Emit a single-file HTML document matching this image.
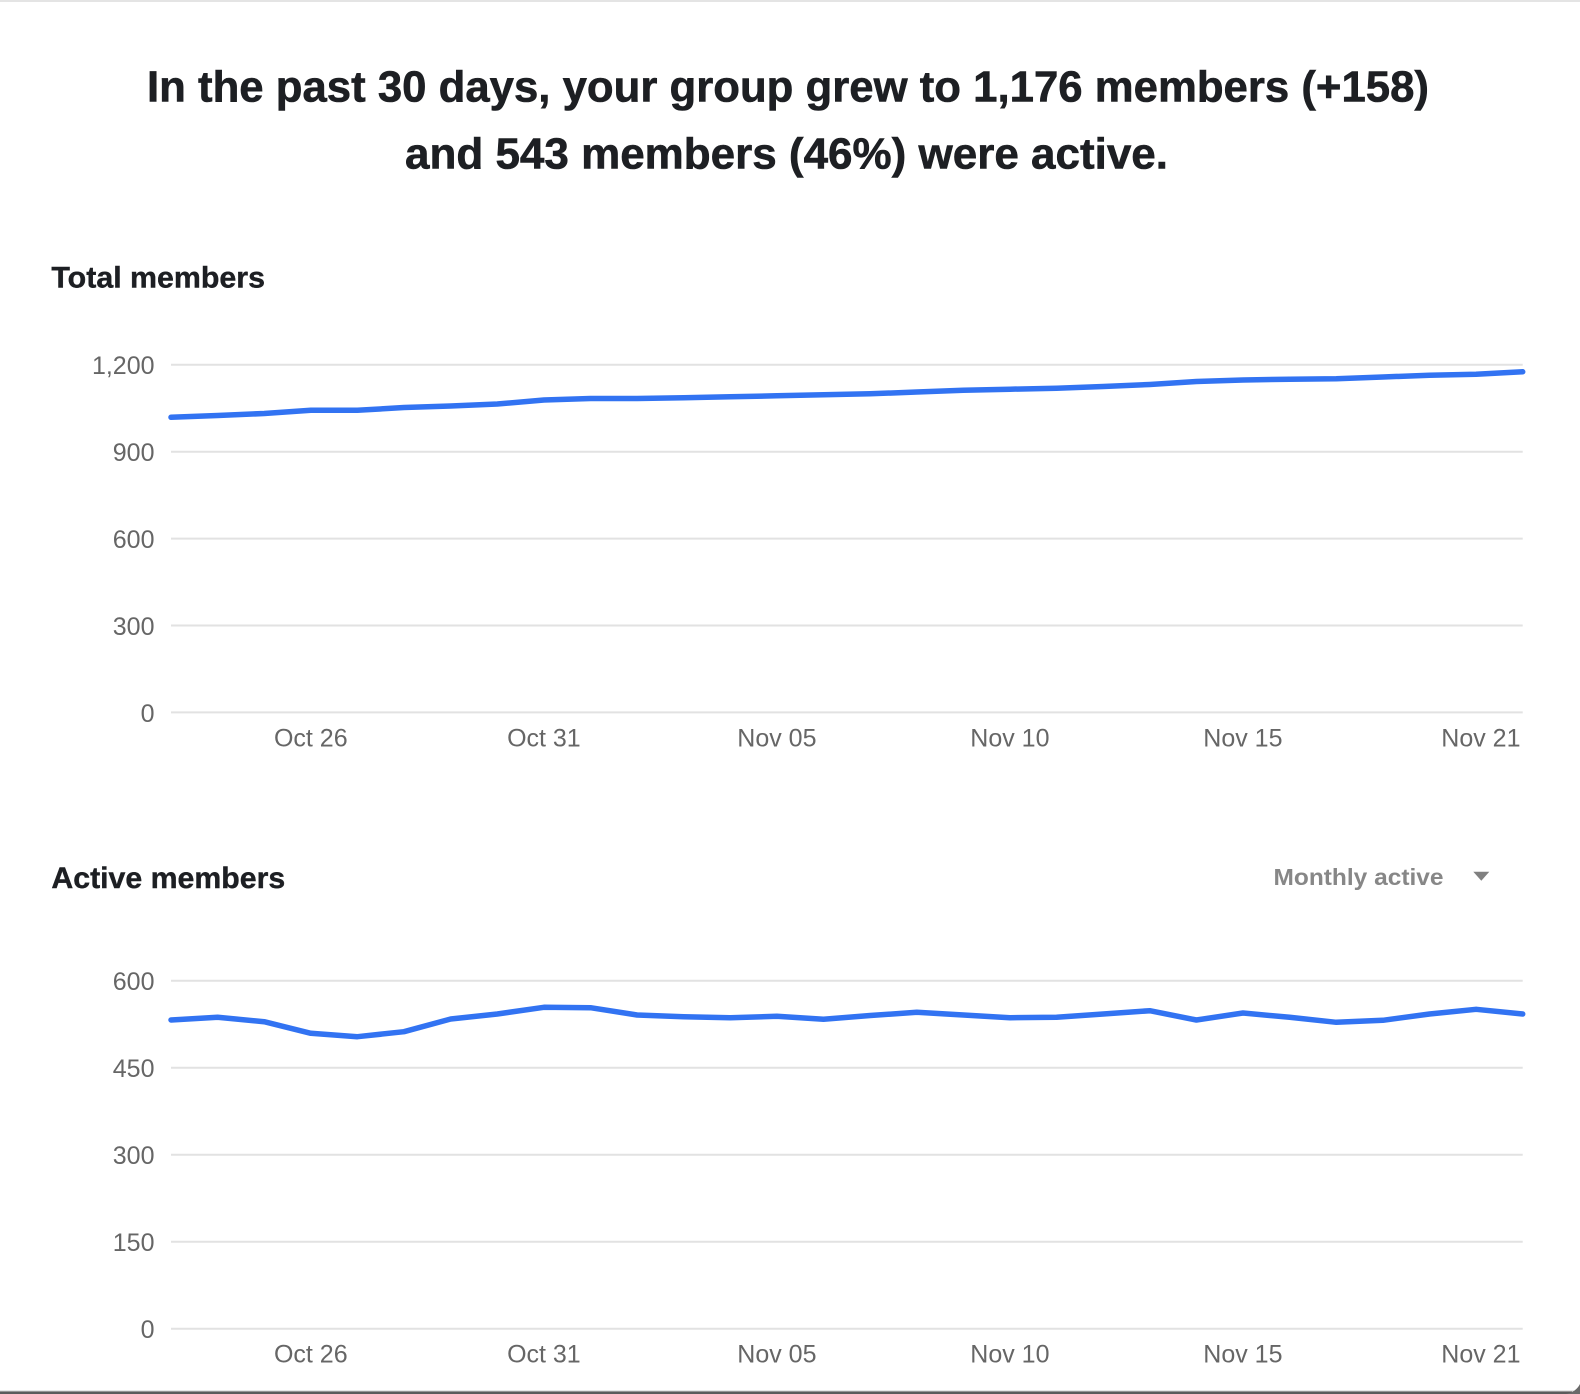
<!DOCTYPE html>
<html>
<head>
<meta charset="utf-8">
<style>
  html, body { margin: 0; padding: 0; background: #ffffff; }
  body { width: 1580px; height: 1394px; overflow: hidden; }
  svg { display: block; }
  .title { font-family: "Liberation Sans", Arial, sans-serif; font-weight: 700; font-size: 44px; fill: #1d1f23; stroke: #1d1f23; stroke-width: 0.6; }
  .sec { font-family: "Liberation Sans", Arial, sans-serif; font-weight: 700; font-size: 30px; fill: #1d1f23; stroke: #1d1f23; stroke-width: 0.4; }
  .drop { font-family: "Liberation Sans", Arial, sans-serif; font-weight: 700; font-size: 23px; fill: #878787; }
  .ax { font-family: "Liberation Sans", Arial, sans-serif; font-size: 25px; fill: #666666; }
  .grid { stroke: #e2e2e2; stroke-width: 2; }
  .series { fill: none; stroke: #3273f2; stroke-width: 5.5; stroke-linejoin: round; stroke-linecap: round; }
</style>
</head>
<body>
<svg width="1580" height="1394" viewBox="0 0 1580 1394" xmlns="http://www.w3.org/2000/svg">
  <rect x="0" y="0" width="1580" height="1394" fill="#ffffff"/>
  <!-- top border -->
  <rect x="0" y="0" width="1580" height="2" fill="#e4e4e4"/>
  <!-- bottom border -->
  <rect x="0" y="1390.5" width="1574" height="1" fill="#cfcfcf"/>
  <rect x="0" y="1391.5" width="1572" height="2.5" fill="#5b5b5b"/>
  <path d="M1566 1394 Q1576 1392 1580 1384 L1580 1394 Z" fill="#6a6a6a"/>

  <!-- Title -->
  <text class="title" x="147" y="101.7" textLength="1282" lengthAdjust="spacingAndGlyphs">In the past 30 days, your group grew to 1,176 members (+158)</text>
  <text class="title" x="405" y="168.3" textLength="763" lengthAdjust="spacingAndGlyphs">and 543 members (46%) were active.</text>

  <!-- Section: Total members -->
  <text class="sec" x="51.4" y="287.5" textLength="213.6" lengthAdjust="spacingAndGlyphs">Total members</text>

  <g>
    <line class="grid" x1="171" y1="364.8" x2="1522.7" y2="364.8"/>
    <line class="grid" x1="171" y1="451.7" x2="1522.7" y2="451.7"/>
    <line class="grid" x1="171" y1="538.6" x2="1522.7" y2="538.6"/>
    <line class="grid" x1="171" y1="625.5" x2="1522.7" y2="625.5"/>
    <line class="grid" x1="171" y1="712.4" x2="1522.7" y2="712.4"/>
    <text class="ax" x="154.5" y="374.2" text-anchor="end">1,200</text>
    <text class="ax" x="154.5" y="461.1" text-anchor="end">900</text>
    <text class="ax" x="154.5" y="548.0" text-anchor="end">600</text>
    <text class="ax" x="154.5" y="634.9" text-anchor="end">300</text>
    <text class="ax" x="154.5" y="721.8" text-anchor="end">0</text>
    <text class="ax" x="310.8" y="746.7" text-anchor="middle">Oct 26</text>
    <text class="ax" x="543.9" y="746.7" text-anchor="middle">Oct 31</text>
    <text class="ax" x="776.9" y="746.7" text-anchor="middle">Nov 05</text>
    <text class="ax" x="1009.9" y="746.7" text-anchor="middle">Nov 10</text>
    <text class="ax" x="1242.9" y="746.7" text-anchor="middle">Nov 15</text>
    <text class="ax" x="1520.5" y="746.7" text-anchor="end">Nov 21</text>
    <polyline class="series" points="
      171.0,417.3 217.6,415.5 264.2,413.5 310.8,410.3 357.4,410.3 404.0,407.5
      450.7,406.0 497.3,404.0 543.9,400.0 590.5,398.5 637.1,398.5 683.7,397.8
      730.3,396.8 776.9,395.8 823.5,394.8 870.2,393.8 916.8,392.0 963.4,390.2
      1010.0,389.2 1056.6,388.2 1103.2,386.5 1149.8,384.5 1196.4,381.5 1243.0,380.0
      1289.6,379.2 1336.3,378.8 1382.9,377.0 1429.5,375.2 1476.1,374.3 1522.7,371.8"/>
  </g>

  <!-- Section: Active members -->
  <text class="sec" x="51.4" y="887.8" textLength="233.8" lengthAdjust="spacingAndGlyphs">Active members</text>
  <text class="drop" x="1273.5" y="885" textLength="170" lengthAdjust="spacingAndGlyphs">Monthly active</text>
  <polygon points="1473.3,871.7 1489.3,871.7 1481.3,880.7" fill="#808080"/>

  <g>
    <line class="grid" x1="171" y1="980.7" x2="1522.7" y2="980.7"/>
    <line class="grid" x1="171" y1="1067.7" x2="1522.7" y2="1067.7"/>
    <line class="grid" x1="171" y1="1154.7" x2="1522.7" y2="1154.7"/>
    <line class="grid" x1="171" y1="1241.7" x2="1522.7" y2="1241.7"/>
    <line class="grid" x1="171" y1="1328.7" x2="1522.7" y2="1328.7"/>
    <text class="ax" x="154.5" y="990.1" text-anchor="end">600</text>
    <text class="ax" x="154.5" y="1077.1" text-anchor="end">450</text>
    <text class="ax" x="154.5" y="1164.1" text-anchor="end">300</text>
    <text class="ax" x="154.5" y="1251.1" text-anchor="end">150</text>
    <text class="ax" x="154.5" y="1338.1" text-anchor="end">0</text>
    <text class="ax" x="310.8" y="1362.7" text-anchor="middle">Oct 26</text>
    <text class="ax" x="543.9" y="1362.7" text-anchor="middle">Oct 31</text>
    <text class="ax" x="776.9" y="1362.7" text-anchor="middle">Nov 05</text>
    <text class="ax" x="1009.9" y="1362.7" text-anchor="middle">Nov 10</text>
    <text class="ax" x="1242.9" y="1362.7" text-anchor="middle">Nov 15</text>
    <text class="ax" x="1520.5" y="1362.7" text-anchor="end">Nov 21</text>
    <polyline class="series" points="
      171.0,1020.0 217.6,1017.3 264.2,1021.7 310.8,1033.3 357.4,1036.7 404.0,1031.7
      450.7,1019.0 497.3,1014.0 543.9,1007.3 590.5,1007.7 637.1,1015.0 683.7,1016.7
      730.3,1017.7 776.9,1016.3 823.5,1019.3 870.2,1015.5 916.8,1012.3 963.4,1015.0
      1010.0,1017.7 1056.6,1017.3 1103.2,1014.0 1149.8,1010.7 1196.4,1020.0 1243.0,1013.0
      1289.6,1017.3 1336.3,1022.3 1382.9,1020.3 1429.5,1014.0 1476.1,1009.3 1522.7,1014.0"/>
  </g>
</svg>
</body>
</html>
